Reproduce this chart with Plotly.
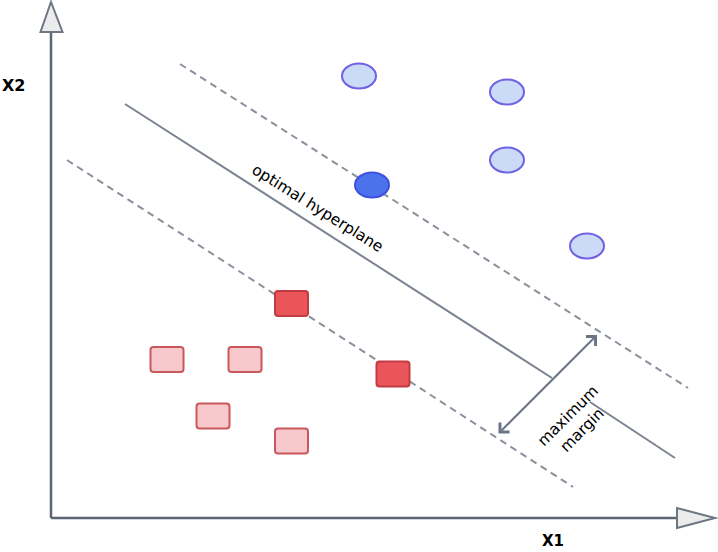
import plotly.graph_objects as go

# ---- data (diagram coordinates: origin at the axes corner) ----
blue_x = [308, 456, 456, 321, 536]
blue_y = [442, 426, 358, 333, 272]
blue_support = [False, False, False, True, False]

red_x = [240.5, 342, 116, 194, 162, 240.5]
red_y = [214.5, 144, 158.5, 158.5, 102, 77]
red_support = [True, True, False, False, False, False]

hyper_x = [74, 501, None, 539, 624]
hyper_y = [414, 140, None, 116, 60]
upper_x = [129, 637]
upper_y = [454, 130]
lower_x = [16, 522]
lower_y = [358, 31]

margin_from = (446, 83)
margin_to = (546, 183)

axis_len_x = 626
axis_len_y = 486

# ---- styles ----
LINE = "#7b8391"
AXIS = "#5d6674"
W, H = 718, 552

fig = go.Figure()

fig.add_trace(go.Scatter(x=upper_x, y=upper_y, mode="lines",
                         line=dict(color="#8a919c", width=2, dash="7px,5px"),
                         hoverinfo="skip", showlegend=False))
fig.add_trace(go.Scatter(x=lower_x, y=lower_y, mode="lines",
                         line=dict(color="#8a919c", width=2, dash="7px,5px"),
                         hoverinfo="skip", showlegend=False))
fig.add_trace(go.Scatter(x=hyper_x, y=hyper_y, mode="lines",
                         line=dict(color=LINE, width=2),
                         hoverinfo="skip", showlegend=False))

shapes = []
# axes
shapes.append(dict(type="line", x0=0, y0=0, x1=0, y1=axis_len_y,
                   line=dict(color=AXIS, width=2.5), layer="above"))
shapes.append(dict(type="line", x0=0, y0=0, x1=axis_len_x, y1=0,
                   line=dict(color=AXIS, width=2.5), layer="above"))
shapes.append(dict(type="path",
                   path=f"M -10.5 {axis_len_y} L 0 {axis_len_y+30} L 11.5 {axis_len_y} Z",
                   fillcolor="#ececec", line=dict(color="#6e7683", width=2), layer="above"))
shapes.append(dict(type="path",
                   path=f"M {axis_len_x} -10 L {axis_len_x+38} 0 L {axis_len_x} 10 Z",
                   fillcolor="#ececec", line=dict(color="#6e7683", width=2), layer="above"))

# circles (ellipses)
rx, ry = 17, 12.5
for cx, cy, s in zip(blue_x, blue_y, blue_support):
    fill = "#4a72ea" if s else "#cbdaf6"
    edge = "#3f50de" if s else "#6f62e4"
    shapes.append(dict(type="circle", x0=cx - rx, x1=cx + rx, y0=cy - ry, y1=cy + ry,
                       fillcolor=fill, line=dict(color=edge, width=2), layer="above"))

# rounded squares
hx, hy, r = 16.5, 12.5, 3
def rrect(cx, cy):
    x0, x1, y0, y1 = cx - hx, cx + hx, cy - hy, cy + hy
    return (f"M {x0+r} {y0} L {x1-r} {y0} Q {x1} {y0} {x1} {y0+r} "
            f"L {x1} {y1-r} Q {x1} {y1} {x1-r} {y1} L {x0+r} {y1} "
            f"Q {x0} {y1} {x0} {y1-r} L {x0} {y0+r} Q {x0} {y0} {x0+r} {y0} Z")
for cx, cy, s in zip(red_x, red_y, red_support):
    fill = "#ea555c" if s else "#f8c9cc"
    edge = "#c23b41" if s else "#c9585d"
    shapes.append(dict(type="path", path=rrect(cx, cy),
                       fillcolor=fill, line=dict(color=edge, width=2), layer="above"))

annotations = [
    dict(x=margin_to[0], y=margin_to[1], ax=margin_from[0], ay=margin_from[1],
         xref="x", yref="y", axref="x", ayref="y", text="", showarrow=True,
         arrowhead=4, startarrowhead=4, arrowside="end+start",
         arrowwidth=2, arrowsize=1.3, startarrowsize=1.3, arrowcolor="#6b7585"),
    dict(x=266, y=310, xref="x", yref="y", text="optimal hyperplane", showarrow=False,
         textangle=32, font=dict(family="DejaVu Sans", size=15.5, color="#000")),
    dict(x=524, y=95, xref="x", yref="y", text="maximum<br>margin", showarrow=False,
         textangle=-45, font=dict(family="DejaVu Sans", size=15.5, color="#000")),
    dict(x=-38, y=433, xref="x", yref="y", text="X2", showarrow=False,
         font=dict(family="DejaVu Sans", size=16, color="#000", weight="bold")),
    dict(x=502, y=-23, xref="x", yref="y", text="X1", showarrow=False,
         font=dict(family="DejaVu Sans", size=15, color="#000", weight="bold")),
]

fig.update_layout(
    width=W, height=H, margin=dict(l=0, r=0, t=0, b=0),
    paper_bgcolor="white", plot_bgcolor="white",
    xaxis=dict(range=[-51, 667], visible=False, fixedrange=True),
    yaxis=dict(range=[-34, 518], visible=False, fixedrange=True),
    shapes=shapes, annotations=annotations, showlegend=False,
)

fig.write_html("out.html", config={"displayModeBar": False},
               post_script="document.body.style.margin='0';document.body.style.overflow='hidden';")
